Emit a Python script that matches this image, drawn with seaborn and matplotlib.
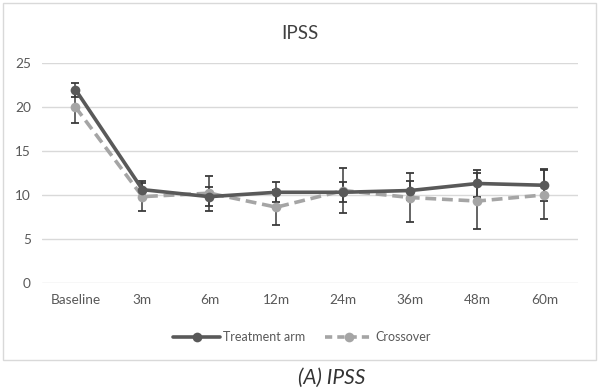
import seaborn as sns
import matplotlib.pyplot as plt
import pandas as pd
import numpy as np
from matplotlib.patches import Rectangle
from matplotlib.lines import Line2D

# Datos
timepoints = ['Baseline', '3m', '6m', '12m', '24m', '36m', '48m', '60m']
treatment = [22.0, 10.6, 9.8, 10.3, 10.3, 10.5, 11.3, 11.1]
treatment_err = [0.8, 1.0, 1.1, 1.15, 1.15, 1.1, 1.5, 1.8]
crossover = [20.0, 9.8, 10.2, 8.6, 10.5, 9.7, 9.3, 10.0]
crossover_err = [1.8, 1.6, 2.0, 2.0, 2.6, 2.8, 3.2, 2.8]
y_ticks = [0, 5, 10, 15, 20, 25]

dark = '#595959'
light = '#a5a5a5'

sns.set_style('white')
plt.rcParams['font.family'] = ['Lato', 'DejaVu Sans']

df = pd.DataFrame({
    'x': list(range(len(timepoints))) * 2,
    'value': treatment + crossover,
    'group': ['Treatment arm'] * len(timepoints) + ['Crossover'] * len(timepoints),
})

fig = plt.figure(figsize=(6, 3.92), dpi=100)
ax = fig.add_axes([0.07, 0.279, 0.893, 0.5595])

# Barras de error
x = np.arange(len(timepoints))
ax.errorbar(x, treatment, yerr=treatment_err, fmt='none', ecolor='#3a3a3a',
            elinewidth=1.1, capsize=3, capthick=1.3, zorder=2)
ax.errorbar(x, crossover, yerr=crossover_err, fmt='none', ecolor='#3a3a3a',
            elinewidth=1.1, capsize=3, capthick=1.3, zorder=2)

sns.lineplot(data=df[df.group == 'Treatment arm'], x='x', y='value', ax=ax,
             color=dark, linewidth=2.6, marker='o', markersize=7,
             markeredgewidth=0, zorder=4, legend=False)
sns.lineplot(data=df[df.group == 'Crossover'], x='x', y='value', ax=ax,
             color=light, linewidth=2.6, linestyle=(0, (3, 1.6)), marker='o',
             markersize=7, markeredgewidth=0, zorder=3, legend=False)

ax.set_xlim(-0.5, len(timepoints) - 0.5)
ax.set_ylim(0, 25)
ax.set_yticks(y_ticks)
ax.set_xticks(x)
ax.set_xticklabels(timepoints)
ax.grid(axis='y', color='#d9d9d9', linewidth=1)
ax.set_axisbelow(True)
for s in ax.spines.values():
    s.set_visible(False)
ax.tick_params(axis='both', length=0, labelsize=9.8, colors='#595959', pad=8)
ax.set_xlabel('')
ax.set_ylabel('')

fig.text(0.5, 0.915, 'IPSS', ha='center', va='center', fontsize=13.5, color='#404040')

handles = [
    Line2D([], [], color=dark, linewidth=2.6, marker='o', markersize=7, markeredgewidth=0),
    Line2D([], [], color=light, linewidth=2.6, linestyle=(0, (2, 1.4)), marker='o',
           markersize=7, markeredgewidth=0),
]
fig.legend(handles, ['Treatment arm', 'Crossover'], loc='center', bbox_to_anchor=(0.503, 0.14),
           ncol=2, frameon=False, fontsize=9, labelcolor='#595959', handlelength=3.8,
           columnspacing=1.6, handletextpad=0.2)

# Marco exterior del gráfico
fig.patches.append(Rectangle((0.005, 0.082), 0.988, 0.91, transform=fig.transFigure,
                             fill=False, edgecolor='#d9d9d9', linewidth=1))

fig.text(0.553, 0.036, '(A) IPSS', ha='center', va='center', fontsize=15,
         style='italic', color='#333333')

fig.savefig('out.png', dpi=100)
